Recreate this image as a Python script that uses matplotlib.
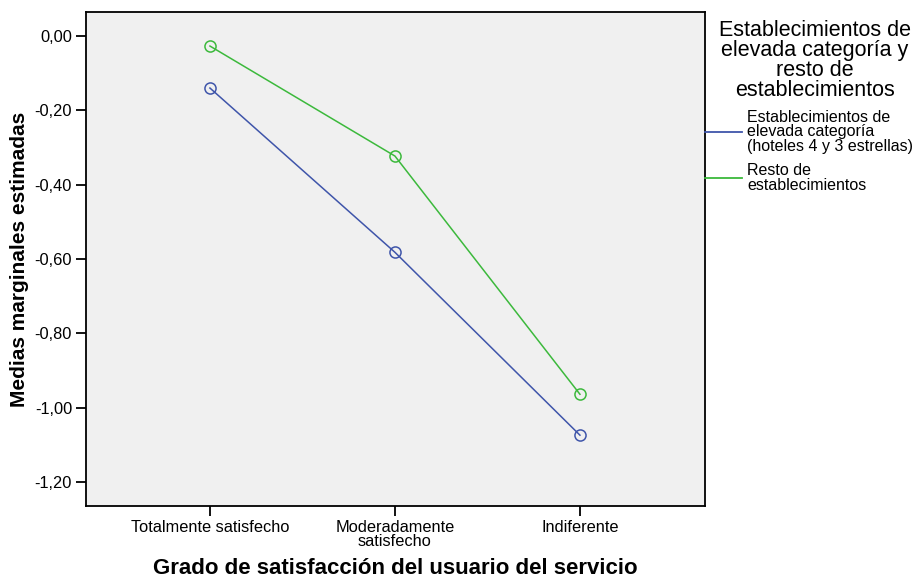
import matplotlib.pyplot as plt
from matplotlib.lines import Line2D

plt.rcParams['font.family'] = ['Liberation Sans', 'DejaVu Sans']

categories = ['Totalmente satisfecho', 'Moderadamente\nsatisfecho', 'Indiferente']
elevada = [-0.140, -0.582, -1.074]
resto = [-0.027, -0.323, -0.964]
series_names = ['Establecimientos de\nelevada categoría\n(hoteles 4 y 3 estrellas)',
                'Resto de\nestablecimientos']
legend_title = 'Establecimientos de\nelevada categoría y\nresto de\nestablecimientos'
yticks = [0.0, -0.2, -0.4, -0.6, -0.8, -1.0, -1.2]

blue = '#3F55AA'
green = '#3CB93C'

W, H = 920, 579
fig = plt.figure(figsize=(W / 100, H / 100), dpi=100)
ax = fig.add_axes([86 / W, 73 / H, 619 / W, 494 / H])
ax.set_facecolor('#F0F0F0')

x = list(range(len(categories)))
ax.plot(x, elevada, color=blue, lw=1.1, marker='o', ms=8, mfc='none', mec=blue, mew=1.1)
ax.plot(x, resto, color=green, lw=1.1, marker='o', ms=8, mfc='none', mec=green, mew=1.1)

ax.set_xlim(-0.67, 2.676)
ax.set_ylim(-1.2646, 0.0646)
ax.set_xticks(x)
ax.set_xticklabels(categories, fontsize=11.8, linespacing=0.95)
ax.set_yticks(yticks)
ax.set_yticklabels([f'{v:.2f}'.replace('.', ',') for v in yticks], fontsize=11.8)
ax.tick_params(direction='out', length=7, width=1.3, colors='black', pad=3)
for s in ax.spines.values():
    s.set_linewidth(1.3)

ax.set_xlabel('Grado de satisfacción del usuario del servicio', fontsize=16,
              fontweight='bold', labelpad=6)
ax.set_ylabel('Medias marginales estimadas', fontsize=15, fontweight='bold', labelpad=4)

# legend title placed on its own, entries below
fig.text(815 / W, 1 - 20 / H, legend_title, ha='center', va='top', fontsize=15.5,
         multialignment='center', linespacing=0.93)

handles = [Line2D([], [], color=blue, lw=1.3), Line2D([], [], color=green, lw=1.3)]
leg = fig.legend(handles, series_names, loc='upper left',
                 bbox_to_anchor=(705 / W, 1 - 110 / H), frameon=False,
                 fontsize=11.5, borderpad=0, borderaxespad=0,
                 handlelength=2.3, handletextpad=0.35, labelspacing=0.6)
for t in leg.get_texts():
    t.set_linespacing(0.95)

fig.savefig('out.png', dpi=100)
